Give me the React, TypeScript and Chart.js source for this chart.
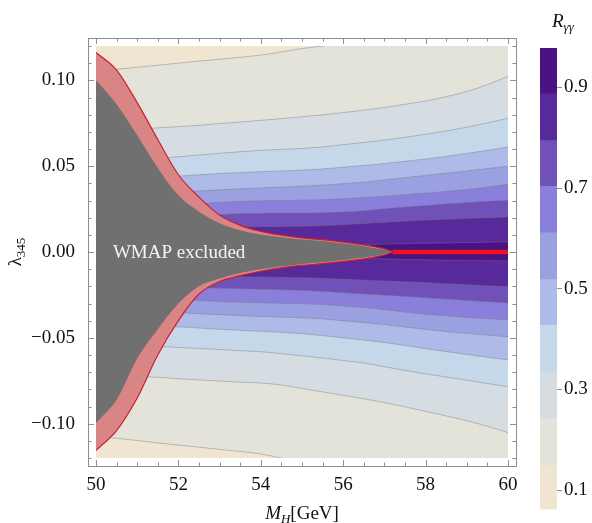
import React, { useEffect, useRef } from 'react';
import { Chart, registerables } from 'chart.js';

Chart.register(...registerables);

// ---------------- data ----------------
const xGrid = [50, 50.5, 51, 51.5, 52, 52.5, 53, 53.5, 54, 54.5, 55, 55.5, 56, 56.5, 57, 57.5, 58, 58.5, 59, 59.5, 60];

// contour lines, upper half (lambda > 0), outer (low R) to inner (high R)
const upperC1 = [0.1050, 0.1064, 0.1076, 0.1088, 0.1100, 0.1112, 0.1123, 0.1134, 0.1147, 0.1165, 0.1185, 0.1200, 0.1222, 0.1245, 0.1270, 0.1295, 0.1320, 0.1350, 0.1380, 0.1410, 0.1440];
const upperC2 = [0.0710, 0.0712, 0.0716, 0.0723, 0.0730, 0.0738, 0.0748, 0.0757, 0.0767, 0.0777, 0.0788, 0.0799, 0.0812, 0.0826, 0.0842, 0.0860, 0.0880, 0.0905, 0.0935, 0.0975, 0.1023];
const upperC3 = [0.0545, 0.0546, 0.0547, 0.0548, 0.0555, 0.0565, 0.0575, 0.0584, 0.0592, 0.0598, 0.0603, 0.0612, 0.0625, 0.0638, 0.0652, 0.0668, 0.0686, 0.0705, 0.0727, 0.0752, 0.0779];
const upperC4 = [0.0440, 0.0440, 0.0440, 0.0440, 0.0442, 0.0450, 0.0457, 0.0463, 0.0468, 0.0472, 0.0477, 0.0484, 0.0494, 0.0504, 0.0515, 0.0528, 0.0542, 0.0557, 0.0574, 0.0592, 0.0612];
const upperC5 = [0.0350, 0.0350, 0.0350, 0.0350, 0.0350, 0.0355, 0.0362, 0.0368, 0.0373, 0.0378, 0.0383, 0.0390, 0.0398, 0.0407, 0.0420, 0.0433, 0.0446, 0.0459, 0.0472, 0.0486, 0.0500];
const upperC6 = [0.0283, 0.0283, 0.0283, 0.0283, 0.0283, 0.0283, 0.0290, 0.0295, 0.0298, 0.0300, 0.0302, 0.0305, 0.0310, 0.0317, 0.0325, 0.0334, 0.0343, 0.0353, 0.0364, 0.0378, 0.0395];
const upperC7 = [0.0218, 0.0218, 0.0218, 0.0218, 0.0218, 0.0218, 0.0218, 0.0224, 0.0226, 0.0227, 0.0227, 0.0229, 0.0234, 0.0241, 0.0252, 0.0262, 0.0271, 0.0280, 0.0288, 0.0295, 0.0302];
const upperC8 = [0.0147, 0.0147, 0.0147, 0.0147, 0.0147, 0.0147, 0.0147, 0.0147, 0.0148, 0.0149, 0.0150, 0.0154, 0.0160, 0.0166, 0.0173, 0.0180, 0.0186, 0.0191, 0.0196, 0.0200, 0.0205];
const upperC9 = [0.0040, 0.0040, 0.0040, 0.0040, 0.0040, 0.0040, 0.0040, 0.0040, 0.0040, 0.0040, 0.0040, 0.0040, 0.0040, 0.0042, 0.0046, 0.0049, 0.0051, 0.0053, 0.0055, 0.0057, 0.0060];

// contour lines, lower half (lambda < 0)
const lowerC1 = [-0.1075, -0.1085, -0.1098, -0.1112, -0.1125, -0.1137, -0.1150, -0.1162, -0.1176, -0.1200, -0.1220, -0.1240, -0.1260, -0.1280, -0.1300, -0.1320, -0.1340, -0.1360, -0.1380, -0.1400, -0.1420];
const lowerC2 = [-0.0720, -0.0722, -0.0724, -0.0730, -0.0738, -0.0745, -0.0752, -0.0758, -0.0763, -0.0775, -0.0795, -0.0815, -0.0835, -0.0855, -0.0877, -0.0902, -0.0928, -0.0955, -0.0983, -0.1015, -0.1052];
const lowerC3 = [-0.0550, -0.0550, -0.0550, -0.0550, -0.0556, -0.0562, -0.0568, -0.0575, -0.0581, -0.0592, -0.0605, -0.0618, -0.0632, -0.0647, -0.0668, -0.0690, -0.0710, -0.0728, -0.0747, -0.0766, -0.0785];
const lowerC4 = [-0.0436, -0.0436, -0.0436, -0.0436, -0.0436, -0.0443, -0.0450, -0.0456, -0.0462, -0.0468, -0.0476, -0.0487, -0.0500, -0.0513, -0.0527, -0.0545, -0.0563, -0.0580, -0.0597, -0.0613, -0.0628];
const lowerC5 = [-0.0354, -0.0354, -0.0354, -0.0354, -0.0354, -0.0360, -0.0365, -0.0370, -0.0375, -0.0379, -0.0383, -0.0390, -0.0400, -0.0411, -0.0423, -0.0437, -0.0451, -0.0463, -0.0474, -0.0484, -0.0494];
const lowerC6 = [-0.0277, -0.0277, -0.0277, -0.0277, -0.0277, -0.0283, -0.0289, -0.0293, -0.0296, -0.0299, -0.0301, -0.0306, -0.0314, -0.0324, -0.0336, -0.0350, -0.0362, -0.0372, -0.0381, -0.0388, -0.0395];
const lowerC7 = [-0.0208, -0.0208, -0.0208, -0.0208, -0.0208, -0.0208, -0.0211, -0.0214, -0.0217, -0.0220, -0.0224, -0.0230, -0.0237, -0.0245, -0.0252, -0.0259, -0.0266, -0.0274, -0.0282, -0.0290, -0.0297];
const lowerC8 = [-0.0143, -0.0143, -0.0143, -0.0143, -0.0143, -0.0143, -0.0143, -0.0145, -0.0146, -0.0148, -0.0150, -0.0154, -0.0159, -0.0164, -0.0169, -0.0174, -0.0179, -0.0185, -0.0191, -0.0197, -0.0202];
const lowerC9 = [-0.0033, -0.0033, -0.0033, -0.0033, -0.0033, -0.0033, -0.0033, -0.0033, -0.0033, -0.0033, -0.0033, -0.0033, -0.0033, -0.0037, -0.0040, -0.0043, -0.0045, -0.0047, -0.0049, -0.0051, -0.0052];

// excluded regions
const xExcl = [50, 50.5, 51, 51.5, 52, 52.5, 53, 53.5, 54, 54.5, 55, 55.5, 56, 56.5, 57, 57.2];
const pinkUpper = [0.1163, 0.1060, 0.0870, 0.0655, 0.0450, 0.0320, 0.0215, 0.0155, 0.0120, 0.0098, 0.0082, 0.0072, 0.0058, 0.0041, 0.0018, 0];
const grayUpper = [0.1000, 0.0860, 0.0680, 0.0490, 0.0330, 0.0235, 0.0168, 0.0127, 0.0102, 0.0086, 0.0073, 0.0064, 0.0050, 0.0034, 0.0013, 0];
const pinkLower = [-0.1155, -0.1040, -0.0850, -0.0600, -0.0400, -0.0245, -0.0172, -0.0138, -0.0112, -0.0092, -0.0078, -0.0068, -0.0055, -0.0040, -0.0017, 0];
const grayLower = [-0.0996, -0.0860, -0.0620, -0.0450, -0.0300, -0.0200, -0.0155, -0.0123, -0.0100, -0.0085, -0.0070, -0.0060, -0.0047, -0.0032, -0.0012, 0];

const zeroLineX = [57.2, 60];
const zeroLineY = [0, 0];

// colour bar levels (R_gammagamma) and band colours
const levels = [0.056, 0.148, 0.242, 0.335, 0.428, 0.518, 0.611, 0.703, 0.794, 0.887, 0.978];
const bandColors = ['#efe5d1', '#e3e3da', '#d5dde2', '#c4d8e9', '#aebae7', '#9ba0e1', '#8a80dc', '#6f51b7', '#57299b', '#4b1284'];

// ticks
const xTickValues = [50, 52, 54, 56, 58, 60];
const xMinorTicks = [50, 50.5, 51, 51.5, 52, 52.5, 53, 53.5, 54, 54.5, 55, 55.5, 56, 56.5, 57, 57.5, 58, 58.5, 59, 59.5, 60];
const yTickValues = [-0.1, -0.05, 0, 0.05, 0.1];
const yMinorTicks = [-0.12, -0.11, -0.1, -0.09, -0.08, -0.07, -0.06, -0.05, -0.04, -0.03, -0.02, -0.01, 0, 0.01, 0.02, 0.03, 0.04, 0.05, 0.06, 0.07, 0.08, 0.09, 0.1, 0.11, 0.12];
const cbTickValues = [0.1, 0.3, 0.5, 0.7, 0.9];

const wmapText = 'WMAP excluded';
const wmapAnchor = { x: 50.41, y: -0.0035 };

// ---------------- styles ----------------
const FONT = '"Liberation Serif", "Times New Roman", serif';
const FRAME_COLOR = '#8f8f8f';
const FRAME_GAP = 8;
const CONTOUR_LINE = 'rgba(120,120,130,0.55)';

const pts = (xs: number[], ys: number[]) => xs.map((x, i) => ({ x, y: ys[i] }));
const fmtY = (v: number) => (v < 0 ? '\u2212' : '') + Math.abs(v).toFixed(2);

const framePlugin = {
  id: 'frameTicks',
  afterDraw(chart: any) {
    const { ctx, chartArea: a, scales } = chart;
    const L = a.left - FRAME_GAP, R = a.right + FRAME_GAP, T = a.top - FRAME_GAP, B = a.bottom + FRAME_GAP;
    ctx.save();
    ctx.strokeStyle = FRAME_COLOR;
    ctx.lineWidth = 1;
    ctx.strokeRect(Math.round(L) + 0.5, Math.round(T) + 0.5, Math.round(R - L), Math.round(B - T));
    ctx.beginPath();
    xMinorTicks.forEach((v) => {
      const px = Math.round(scales.x.getPixelForValue(v)) + 0.5;
      const len = xTickValues.includes(v) ? 6 : 3.5;
      ctx.moveTo(px, B); ctx.lineTo(px, B - len);
      ctx.moveTo(px, T); ctx.lineTo(px, T + len);
    });
    yMinorTicks.forEach((v) => {
      const py = Math.round(scales.y.getPixelForValue(v)) + 0.5;
      const major = yTickValues.some((t) => Math.abs(t - v) < 1e-9);
      const len = major ? 6 : 3.5;
      ctx.moveTo(L, py); ctx.lineTo(L + len, py);
      ctx.moveTo(R, py); ctx.lineTo(R - len, py);
    });
    ctx.stroke();
    ctx.restore();
  },
};

const labelPlugin = {
  id: 'wmapLabel',
  afterDatasetsDraw(chart: any) {
    const { ctx, scales } = chart;
    ctx.save();
    ctx.font = `19px ${FONT}`;
    ctx.fillStyle = '#f4f4f4';
    ctx.textAlign = 'left';
    ctx.textBaseline = 'alphabetic';
    ctx.fillText(wmapText, scales.x.getPixelForValue(wmapAnchor.x), scales.y.getPixelForValue(wmapAnchor.y));
    ctx.restore();
  },
};

export default function App() {
  const mainRef = useRef<HTMLCanvasElement>(null);
  const cbRef = useRef<HTMLCanvasElement>(null);

  useEffect(() => {
    const upper = [upperC1, upperC2, upperC3, upperC4, upperC5, upperC6, upperC7, upperC8, upperC9];
    const lower = [lowerC1, lowerC2, lowerC3, lowerC4, lowerC5, lowerC6, lowerC7, lowerC8, lowerC9];
    const common = { pointRadius: 0, pointHoverRadius: 0, cubicInterpolationMode: 'monotone' as const };
    const datasets: any[] = [
      { ...common, data: pts(zeroLineX, zeroLineY), borderColor: '#f2121c', borderWidth: 4.5, fill: false, order: 0, cubicInterpolationMode: 'default' },
      { ...common, data: pts(xExcl, grayUpper), backgroundColor: '#707070', borderWidth: 0, fill: 'origin', order: 1 },
      { ...common, data: pts(xExcl, grayLower), backgroundColor: '#707070', borderWidth: 0, fill: 'origin', order: 1 },
      { ...common, data: pts(xExcl, pinkUpper), backgroundColor: '#d98585', borderColor: '#cc1f2e', borderWidth: 1.2, fill: 'origin', order: 2 },
      { ...common, data: pts(xExcl, pinkLower), backgroundColor: '#d98585', borderColor: '#cc1f2e', borderWidth: 1.2, fill: 'origin', order: 2 },
    ];
    for (let k = 0; k < 9; k++) {
      datasets.push({ ...common, data: pts(xGrid, upper[k]), backgroundColor: bandColors[k + 1], borderColor: CONTOUR_LINE, borderWidth: 0.8, fill: 'origin', order: 11 - k });
      datasets.push({ ...common, data: pts(xGrid, lower[k]), backgroundColor: bandColors[k + 1], borderColor: CONTOUR_LINE, borderWidth: 0.8, fill: 'origin', order: 11 - k });
    }
    datasets.push({ ...common, data: pts([50, 60], [0.12, 0.12]), backgroundColor: bandColors[0], borderWidth: 0, fill: { value: -0.12 }, order: 20 });

    const tickFont = { family: FONT, size: 19 };
    const main = new Chart(mainRef.current!, {
      type: 'line',
      data: { datasets },
      options: {
        animation: false,
        responsive: true,
        maintainAspectRatio: false,
        events: [],
        layout: { padding: { left: 0, right: 84, top: 46, bottom: 0 } },
        plugins: { legend: { display: false }, tooltip: { enabled: false } },
        scales: {
          x: {
            type: 'linear', min: 50, max: 60,
            afterBuildTicks: (axis: any) => { axis.ticks = xTickValues.map((v) => ({ value: v })); },
            afterFit: (axis: any) => { axis.height = 65; },
            ticks: { font: tickFont, color: '#111', padding: 8, maxRotation: 0, autoSkip: false, callback: (v: any) => String(v) },
            grid: { display: false },
            border: { display: false },
          },
          y: {
            type: 'linear', min: -0.12, max: 0.12,
            afterBuildTicks: (axis: any) => { axis.ticks = yTickValues.map((v) => ({ value: v })); },
            afterFit: (axis: any) => { axis.width = 96; },
            ticks: { font: tickFont, color: '#111', padding: 13, autoSkip: false, callback: (v: any) => fmtY(Number(v)) },
            grid: { display: false },
            border: { display: false },
          },
        },
      },
      plugins: [labelPlugin, framePlugin],
    });

    const cb = new Chart(cbRef.current!, {
      type: 'bar',
      data: {
        labels: [''],
        datasets: bandColors.map((c, i) => ({
          data: [[levels[i], levels[i + 1]]] as any,
          backgroundColor: c,
          borderWidth: 0,
          barPercentage: 1,
          categoryPercentage: 1,
          grouped: false,
        })),
      },
      options: {
        animation: false,
        responsive: true,
        maintainAspectRatio: false,
        events: [],
        layout: { padding: { left: 20, top: 48, right: 0, bottom: 0 } },
        plugins: { legend: { display: false }, tooltip: { enabled: false } },
        scales: {
          x: { display: false },
          y: {
            position: 'right', min: 0.0615, max: 0.978,
            afterBuildTicks: (axis: any) => { axis.ticks = cbTickValues.map((v) => ({ value: v })); },
            afterFit: (axis: any) => { axis.width = 35; },
            ticks: { font: tickFont, color: '#111', padding: 2, autoSkip: false, callback: (v: any) => Number(v).toFixed(1) },
            grid: { drawOnChartArea: false, drawTicks: true, tickLength: 5, color: '#8f8f8f' },
            border: { display: false },
          },
        },
      },
    });

    return () => { main.destroy(); cb.destroy(); };
  }, []);

  const serif = FONT;
  return (
    <div style={{ position: 'absolute', left: 0, top: 0, width: 592, height: 523, overflow: 'hidden', background: '#fff', fontFamily: serif }}>
      <div style={{ position: 'absolute', left: 0, top: 0, width: 592, height: 523 }}>
        <canvas ref={mainRef} />
      </div>
      <div style={{ position: 'absolute', left: 520, top: 0, width: 72, height: 523 }}>
        <canvas ref={cbRef} />
      </div>
      <div style={{ position: 'absolute', left: -15, top: 240, width: 60, height: 24, lineHeight: '24px', textAlign: 'center', fontSize: 19, color: '#111', transform: 'rotate(-90deg)', whiteSpace: 'nowrap' }}>
        λ<span style={{ fontSize: 13, position: 'relative', top: 4 }}>345</span>
      </div>
      <div style={{ position: 'absolute', left: 242, top: 502, width: 120, height: 22, lineHeight: '22px', textAlign: 'center', fontSize: 19, color: '#111', whiteSpace: 'nowrap' }}>
        <i>M</i><span style={{ fontSize: 13, position: 'relative', top: 4 }}><i>H</i></span>[GeV]
      </div>
      <div style={{ position: 'absolute', left: 552, top: 10, height: 22, lineHeight: '22px', fontSize: 19, color: '#111', whiteSpace: 'nowrap' }}>
        <i>R</i><span style={{ fontSize: 13, position: 'relative', top: 4 }}><i>γγ</i></span>
      </div>
    </div>
  );
}
